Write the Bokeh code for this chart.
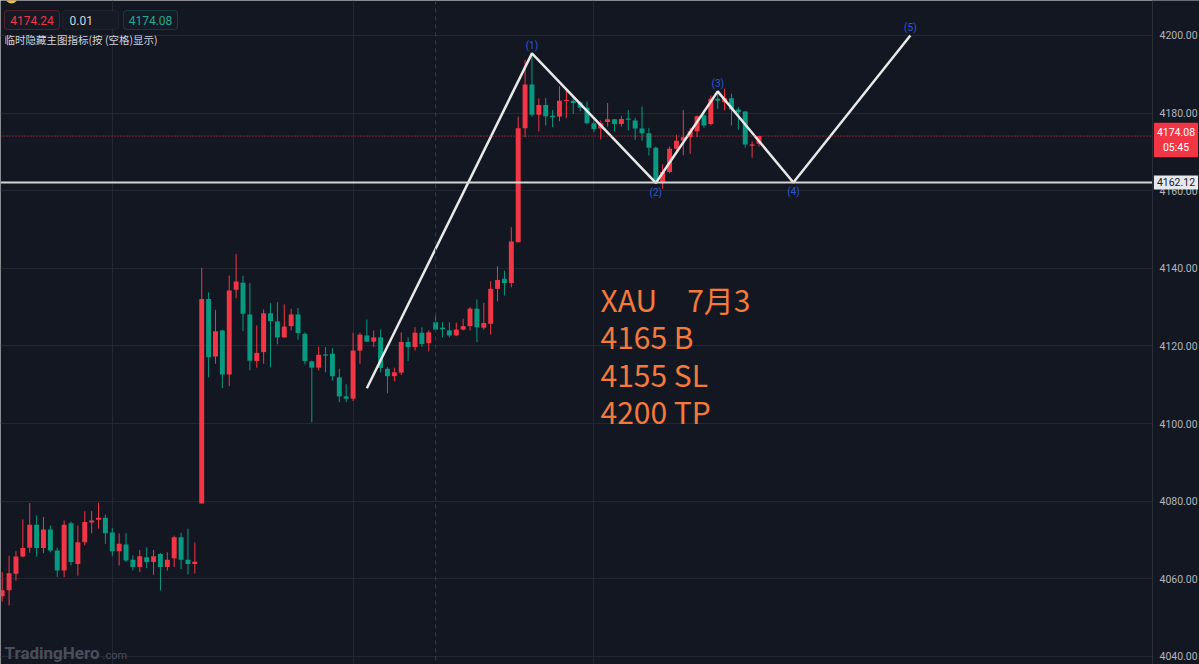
from bokeh.plotting import figure
from bokeh.models import (ColumnDataSource, Label, Span, Grid, FixedTicker,
                          NumeralTickFormatter, BoxAnnotation)
from bokeh.embed import file_html
from bokeh.resources import INLINE
from bokeh.core.properties import value

# ---------------- data ----------------
opens = [4055.5, 4057.0, 4061.3, 4065.7, 4068.0, 4073.9, 4067.9, 4072.7, 4067.3, 4062.1,
         4074.3, 4063.8, 4069.4, 4074.5, 4075.2, 4075.7, 4071.9, 4067.1, 4068.8, 4064.9,
         4063.0, 4065.5, 4064.3, 4066.4, 4063.0, 4065.3, 4070.7, 4064.9, 4063.8, 4079.4,
         4132.1, 4117.3, 4124.0, 4112.6, 4134.5, 4136.3, 4128.1, 4116.1, 4118.4, 4128.4,
         4126.3, 4122.2, 4125.1, 4128.1, 4123.1, 4116.0, 4114.4, 4117.8, 4118.0, 4111.9,
         4107.0, 4106.4, 4118.8, 4122.7, 4121.1, 4122.2, 4114.1, 4112.2, 4113.1, 4121.0,
         4119.7, 4123.4, 4120.7, 4126.1, 4124.7, 4124.0, 4122.7, 4124.2, 4125.1, 4129.6,
         4124.7, 4125.7, 4134.7, 4137.3, 4136.2, 4146.7, 4176.1, 4187.4, 4179.6, 4182.1,
         4179.3, 4179.1, 4183.1, 4183.2, 4182.8, 4181.4, 4177.4, 4176.0, 4177.7, 4178.4,
         4177.2, 4178.5, 4178.1, 4176.0, 4174.8, 4171.1, 4162.2, 4164.8, 4170.8, 4172.9,
         4173.8, 4175.3, 4179.4, 4177.2, 4183.7, 4182.8, 4183.8, 4180.9, 4180.4, 4171.6,
         4172.1]
highs = [4061.7, 4065.9, 4067.1, 4075.3, 4079.5, 4076.3, 4075.9, 4073.7, 4068.0, 4075.0,
         4074.7, 4073.7, 4077.4, 4077.4, 4079.6, 4076.5, 4073.1, 4071.7, 4071.8, 4066.0,
         4067.4, 4068.1, 4067.4, 4066.6, 4066.8, 4071.1, 4071.8, 4072.9, 4069.3, 4140.1,
         4133.8, 4129.3, 4124.2, 4138.1, 4143.7, 4138.1, 4136.2, 4125.3, 4129.4, 4131.0,
         4131.3, 4130.7, 4129.6, 4129.8, 4123.5, 4116.2, 4119.8, 4119.7, 4119.4, 4114.1,
         4110.1, 4123.4, 4123.4, 4126.8, 4124.0, 4124.2, 4114.5, 4114.4, 4123.5, 4122.2,
         4124.8, 4124.8, 4124.0, 4127.8, 4126.1, 4126.1, 4126.0, 4127.0, 4130.0, 4132.0,
         4131.1, 4136.7, 4140.5, 4139.4, 4150.6, 4179.1, 4193.7, 4195.4, 4183.8, 4183.9,
         4180.8, 4186.9, 4186.4, 4184.5, 4183.1, 4183.0, 4178.1, 4178.1, 4182.6, 4178.5,
         4179.2, 4180.8, 4178.8, 4181.7, 4176.2, 4171.4, 4166.8, 4171.4, 4174.4, 4180.8,
         4176.2, 4179.4, 4180.7, 4184.5, 4185.4, 4186.3, 4185.0, 4181.5, 4180.5, 4172.7,
         4174.2]
lows = [4054.1, 4053.1, 4059.5, 4065.5, 4066.7, 4065.7, 4066.6, 4066.8, 4060.4, 4060.4,
        4063.4, 4060.8, 4068.6, 4071.7, 4072.9, 4069.0, 4065.8, 4063.4, 4064.3, 4062.1,
        4061.7, 4062.7, 4061.0, 4057.0, 4062.1, 4063.0, 4062.5, 4061.1, 4061.3, 4079.4,
        4111.9, 4115.4, 4109.1, 4109.6, 4132.3, 4123.8, 4113.7, 4114.4, 4115.4, 4114.5,
        4120.4, 4122.1, 4124.0, 4121.6, 4115.2, 4100.3, 4113.7, 4113.2, 4111.1, 4105.5,
        4105.5, 4105.8, 4115.4, 4121.0, 4119.7, 4113.2, 4107.8, 4110.9, 4112.5, 4116.1,
        4118.8, 4119.8, 4118.6, 4124.2, 4122.2, 4122.2, 4122.5, 4124.0, 4124.0, 4121.0,
        4124.2, 4122.9, 4131.5, 4133.0, 4135.1, 4146.7, 4173.8, 4179.1, 4175.3, 4176.8,
        4176.4, 4177.9, 4178.7, 4179.8, 4180.5, 4177.2, 4175.1, 4173.2, 4176.5, 4175.3,
        4176.5, 4175.5, 4173.1, 4172.9, 4169.1, 4161.9, 4160.5, 4164.5, 4170.6, 4169.1,
        4169.5, 4173.8, 4176.2, 4176.8, 4181.1, 4180.7, 4176.8, 4175.7, 4171.1, 4168.5,
        4171.4]
closes = [4057.0, 4061.4, 4065.7, 4067.9, 4073.9, 4067.9, 4072.7, 4067.3, 4062.1, 4073.9,
          4064.3, 4069.4, 4074.6, 4075.0, 4075.7, 4071.7, 4067.1, 4069.0, 4064.7, 4063.0,
          4065.8, 4064.3, 4065.8, 4063.0, 4064.9, 4070.7, 4064.9, 4063.8, 4064.4, 4132.1,
          4117.1, 4123.8, 4112.6, 4134.3, 4136.6, 4128.3, 4116.2, 4118.2, 4128.4, 4126.4,
          4122.2, 4125.0, 4128.1, 4123.3, 4116.1, 4114.4, 4117.7, 4117.5, 4112.2, 4107.0,
          4106.4, 4118.8, 4122.9, 4121.1, 4122.2, 4114.3, 4112.2, 4113.2, 4121.0, 4119.7,
          4123.4, 4120.5, 4123.5, 4124.2, 4124.3, 4122.7, 4124.2, 4125.1, 4129.6, 4124.8,
          4125.9, 4134.7, 4137.0, 4136.2, 4146.9, 4176.1, 4187.4, 4179.6, 4182.1, 4179.2,
          4178.9, 4183.2, 4183.4, 4182.6, 4181.4, 4177.4, 4175.9, 4177.4, 4178.4, 4177.2,
          4178.5, 4178.3, 4176.0, 4174.8, 4171.1, 4162.2, 4164.8, 4170.8, 4172.9, 4173.8,
          4175.3, 4179.2, 4176.8, 4183.7, 4183.2, 4183.8, 4180.9, 4180.2, 4171.9, 4171.9,
          4174.08]

y_ticks = [4040, 4060, 4080, 4100, 4120, 4140, 4160, 4180, 4200]
x_grid_bars = [16, 51, 86]
session_break_bar = 63

wave_x = [53, 77, 95, 104, 115, 132]
wave_y = [4109.1, 4195.4, 4162.0, 4185.6, 4162.12, 4200.0]
wave_labels = ["", "(1)", "(2)", "(3)", "(4)", "(5)"]

support_level = 4162.12
last_price = 4174.08
countdown = "05:45"
bid_price, lot_size, ask_price = "4174.24", "0.01", "4174.08"
hint_text = "临时隐藏主图指标(按 (空格)显示)"
note_lines = ["XAU\u30007月3", "4165 B", "4155 SL", "4200 TP"]

# ---------------- styling / geometry ----------------
W, H = 1199, 664
AXIS_PX = 1152            # left edge of the price scale, in pixels
X0_PX, STEP_PX = 1.7, 6.88
X_START = -X0_PX / STEP_PX
X_END = X_START + W / STEP_PX
Y_TOP, Y_BOT = 4209.02, 4037.89

BG = "#131722"
GRID = "#232733"
UP = "#f23645"
DOWN = "#089981"
WAVE_BLUE = "#2f57d8"
NOTE = "#f47a3c"


def px2x(px):
    return X_START + px / STEP_PX


def py2y(py):
    return Y_TOP - py * (Y_TOP - Y_BOT) / H


AXIS_X = px2x(AXIS_PX)

p = figure(width=W, height=H, x_range=(X_START, X_END), y_range=(Y_BOT, Y_TOP),
           x_axis_location=None, y_axis_location="right",
           output_backend="svg", toolbar_location=None,
           min_border=0, background_fill_color=BG, border_fill_color=BG,
           outline_line_color=None)

for g in p.grid:
    g.grid_line_color = None
p.add_layout(Grid(dimension=1, ticker=FixedTicker(ticks=y_ticks), grid_line_color=GRID))
p.add_layout(Grid(dimension=0, ticker=FixedTicker(ticks=x_grid_bars), grid_line_color=GRID))
p.add_layout(Span(location=session_break_bar, dimension="height", line_color="#3a3e4a",
                  line_dash="4 4", line_width=1))

ax = p.yaxis[0]
ax.fixed_location = AXIS_X
ax.ticker = FixedTicker(ticks=y_ticks)
ax.formatter = NumeralTickFormatter(format="0.00")
ax.major_tick_line_color = None
ax.minor_tick_line_color = None
ax.major_tick_out = 0
ax.major_tick_in = 0
ax.axis_line_color = "#2a2e39"
ax.major_label_text_color = "#b2b5be"
ax.major_label_text_font = "Roboto"
ax.major_label_text_font_size = "10.5px"
ax.major_label_standoff = 7

# ---------------- levels (under the price-scale cover) ----------------
p.add_layout(Span(location=last_price, dimension="width", line_color=UP,
                  line_dash="1 2", line_width=1, level="glyph"))
p.add_layout(Span(location=support_level, dimension="width", line_color="#d6d6d6",
                  line_width=2, level="glyph"))
# price-scale background: hides grid and level lines right of the axis
p.add_layout(BoxAnnotation(left=AXIS_X, right=X_END, top=Y_TOP, bottom=Y_BOT,
                           fill_color=BG, fill_alpha=1, line_color=None, level="glyph"))

# ---------------- candles ----------------
idx = list(range(len(opens)))
tops, bots, cols = [], [], []
for o, c in zip(opens, closes):
    t, b = max(o, c), min(o, c)
    if t - b < 0.3:
        t = b + 0.3
    tops.append(t)
    bots.append(b)
    cols.append(UP if c >= o else DOWN)
src = ColumnDataSource(dict(x=idx, high=highs, low=lows, top=tops, bottom=bots, color=cols))
p.segment(x0="x", y0="high", x1="x", y1="low", line_color="color", line_width=1, source=src)
p.vbar(x="x", width=0.72, top="top", bottom="bottom", fill_color="color",
       line_color=None, source=src)

# ---------------- wave count ----------------
p.line(wave_x, wave_y, line_color="#e8e8e8", line_width=2.5)
top_i = [1, 3, 5]
bot_i = [2, 4]
p.text(x=[wave_x[i] for i in top_i], y=[wave_y[i] for i in top_i],
       text=[wave_labels[i] for i in top_i], text_align="center", text_baseline="bottom",
       y_offset=-2, text_color=WAVE_BLUE, text_font_size="10px", text_font=value("Roboto"))
p.text(x=[wave_x[i] for i in bot_i], y=[wave_y[i] for i in bot_i],
       text=[wave_labels[i] for i in bot_i], text_align="center", text_baseline="top",
       y_offset=4, text_color=WAVE_BLUE, text_font_size="10px", text_font=value("Roboto"))

# ---------------- trade note ----------------
note_centers_px = [298, 335.5, 373, 410.5]
for line, cy in zip(note_lines, note_centers_px):
    p.add_layout(Label(x=px2x(600), y=py2y(cy), text=line,
                       text_align="left", text_baseline="middle",
                       text_color=NOTE, text_font="Noto Sans CJK SC",
                       text_font_size="30px"))

# ---------------- price-scale tags ----------------
ax_cx = px2x(AXIS_PX + (W - AXIS_PX) / 2)
p.add_layout(Label(x=ax_cx, y=py2y(139.5), text=f"{last_price:.2f}\n{countdown}",
                   text_align="center", text_baseline="middle",
                   text_color="white", text_font="Roboto", text_font_size="10.5px",
                   background_fill_color=UP, padding=3))
p.add_layout(Label(x=ax_cx, y=support_level, text=f"{support_level:.2f}",
                   text_align="center", text_baseline="middle",
                   text_color="#131722", text_font="Roboto", text_font_size="10.5px",
                   background_fill_color="#e6e8ee", padding=3))

# ---------------- header widgets ----------------
p.add_layout(BoxAnnotation(left=px2x(5), right=px2x(17), top=py2y(-9), bottom=py2y(3),
                           fill_color="#f5b93b", fill_alpha=1, line_color=None,
                           border_radius=6))
boxes = [(4, 59, UP, bid_price, UP), (62, 118, "#363a45", lot_size, "#d1d4dc"),
         (123, 177, DOWN, ask_price, "#22ab94")]
for l, r, bc, txt, tc in boxes:
    p.add_layout(BoxAnnotation(left=px2x(l), right=px2x(r), top=py2y(10), bottom=py2y(29),
                               fill_color="#161a25", fill_alpha=1, line_color=bc,
                               line_width=1, border_radius=3))
    if txt == lot_size:
        p.add_layout(Label(x=px2x(69), y=py2y(19.5), text=txt, text_align="left",
                           text_baseline="middle", text_color=tc, text_font="Roboto",
                           text_font_size="12px"))
    else:
        p.add_layout(Label(x=px2x((l + r) / 2), y=py2y(19.5), text=txt, text_align="center",
                           text_baseline="middle", text_color=tc, text_font="Roboto",
                           text_font_size="12px"))
p.add_layout(Label(x=px2x(4), y=py2y(39), text=hint_text, text_align="left",
                   text_baseline="middle", text_color="#d1d4dc",
                   text_font="Noto Sans CJK SC", text_font_size="10.5px"))

# ---------------- watermark ----------------
p.add_layout(Label(x=px2x(4), y=py2y(652), text="TradingHero", text_align="left",
                   text_baseline="middle", text_color="#4a4e5a", text_font="Roboto",
                   text_font_style="bold", text_font_size="17px"))
p.add_layout(Label(x=px2x(102), y=py2y(654.5), text=".com", text_align="left",
                   text_baseline="middle", text_color="#4a4e5a", text_font="Roboto",
                   text_font_size="11px"))

open("out.html", "w").write(file_html(p, INLINE))
